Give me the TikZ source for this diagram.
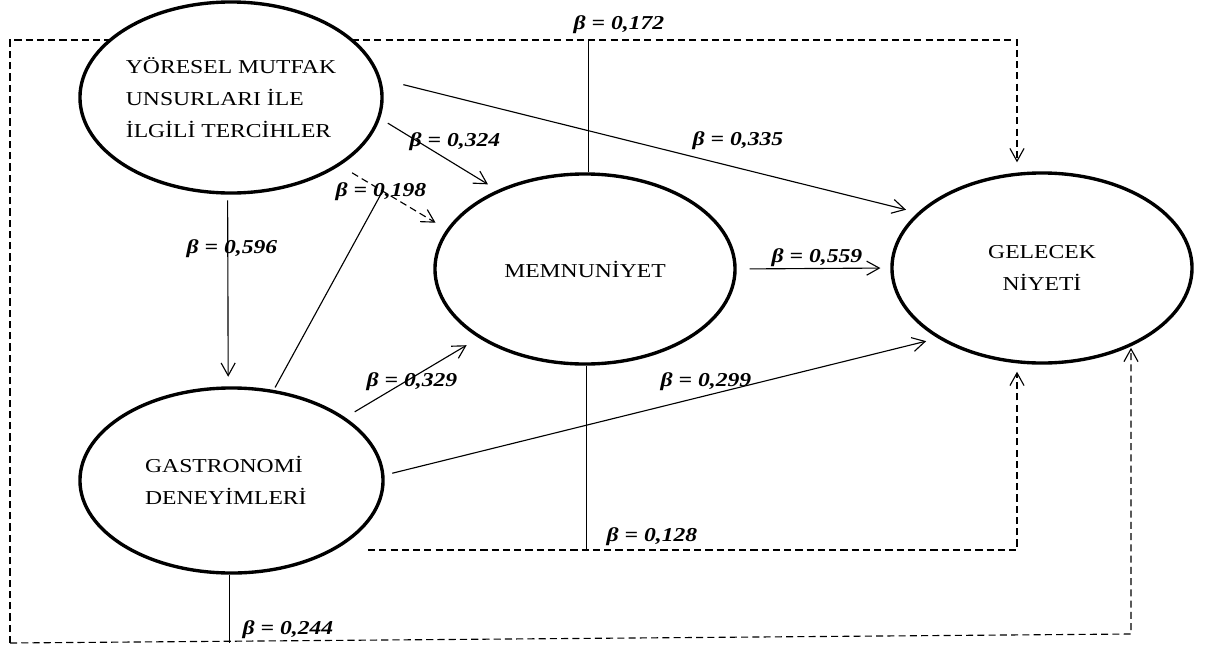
\documentclass[tikz,border=0pt]{standalone}
\usepackage{fontspec}
\setmainfont{Liberation Serif}[FakeStretch=1.2]
\usetikzlibrary{shapes.geometric,arrows.meta,backgrounds}

\tikzset{
  latent/.style={ellipse, draw, line width=2.4pt, fill=white, inner sep=0pt,
    font=\fontsize{14}{23}\selectfont},
  effect/.style={-{Straight Barb[length=9pt,width=10pt]}, line width=0.8pt},
  dasharr/.style={-{Straight Barb[length=9pt,width=10pt]}, line width=0.8pt,
    dash pattern=on 5pt off 3pt},
  link/.style={line width=0.8pt},
  coef/.style={font=\fontsize{14}{16}\selectfont\bfseries\itshape, inner sep=1pt}
}

\begin{document}
\begin{tikzpicture}[x=0.025cm,y=-0.025cm]
  \useasboundingbox (0,0) rectangle (1206,645);

  % constructs
  \node[latent, align=left, minimum width=7.55cm, minimum height=4.775cm] (Y) at (231,97.5)
    {YÖRESEL MUTFAK\\UNSURLARI İLE\\İLGİLİ TERCİHLER};
  \node[latent, align=left, minimum width=7.575cm, minimum height=4.625cm] (G) at (231.5,480.5)
    {GASTRONOMİ\\DENEYİMLERİ\hspace*{8pt}};
  \node[latent, minimum width=7.5cm, minimum height=4.75cm] (M) at (585,269) {MEMNUNİYET};
  \node[latent, align=center, minimum width=7.5cm, minimum height=4.75cm] (N) at (1042,268)
    {GELECEK\\NİYETİ};

  % corners of the moderation paths
  \coordinate (tl) at (10,40);
  \coordinate (bl) at (10,643);
  \coordinate (br) at (1131,634);
  \coordinate (tr) at (1017,40);
  \coordinate (ml) at (368,550);
  \coordinate (mr) at (1017,550);

  \begin{scope}[on background layer]
    \draw[dasharr, shorten >=6.4pt] (bl) -- (tl) -- (tr) -- (tr |- N.north);
    \draw[dasharr, shorten >=2pt] (bl) -- (br) -- (br |- N.-40);
    \draw[dasharr, shorten >=5pt] (ml) -- (mr) -- (mr |- N.south);
  \end{scope}

  % direct effects
  \draw[effect, shorten <=4pt, shorten >=6.8pt] (Y.-92) -- (G.92);
  \draw[effect, shorten <=6.4pt, shorten >=7.8pt] (Y.-8.9) -- (M.138.4);
  \draw[effect, shorten <=16.4pt, shorten >=8.5pt] (Y.7.8) -- (N.156);
  \draw[dasharr, shorten <=10pt, shorten >=9.2pt] (Y.-32) -- coordinate[pos=0.4] (mod1) (M.164.9);
  \draw[link, shorten <=2pt] (G.65.1) -- (mod1);
  \draw[effect, shorten <=7.8pt, shorten >=10pt] (G.29.8) -- (M.213.3);
  \draw[effect, shorten <=5.7pt, shorten >=8.5pt] (G.2.3) -- (N.214.6);
  \draw[effect, shorten <=9.2pt, shorten >=7pt] (M.east) -- (N.west);

  % moderation links
  \draw[link] (M.88) -- (M.88 |- tl);
  \draw[link] (M.-89.6) -- (M.-89.6 |- ml);
  \draw[link] (G.-91) -- (G.-91 |- bl);

  % coefficients
  \node[coef] (b172) at (619,25) {β = 0,172};
  \node[coef] (b324) at (455,142) {β = 0,324};
  \node[coef] (b335) at (738,141) {β = 0,335};
  \node[coef] (b198) at (381,192) {β = 0,198};
  \node[coef] (b596) at (232,249) {β = 0,596};
  \node[coef] (b559) at (817,258) {β = 0,559};
  \node[coef] (b329) at (412,382) {β = 0,329};
  \node[coef] (b299) at (706,382) {β = 0,299};
  \node[coef] (b128) at (652,537) {β = 0,128};
  \node[coef] (b244) at (288,630) {β = 0,244};
\end{tikzpicture}
\end{document}
